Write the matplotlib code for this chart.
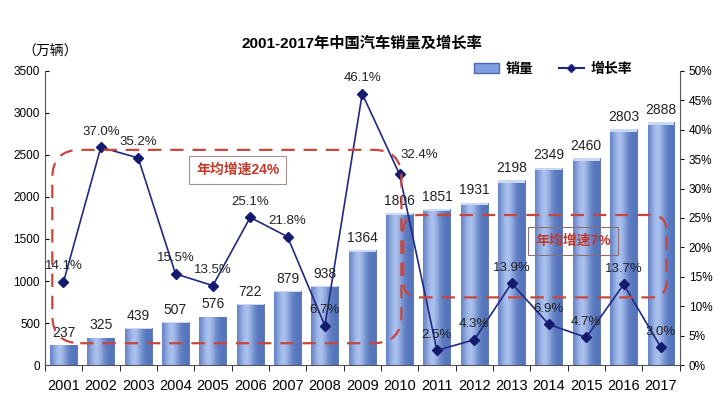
import matplotlib
matplotlib.use("Agg")
import matplotlib.pyplot as plt
import numpy as np
from matplotlib.patches import FancyBboxPatch, Patch
from matplotlib.lines import Line2D
from matplotlib.transforms import IdentityTransform

plt.rcParams["font.family"] = ["Liberation Sans", "Noto Sans CJK SC", "DejaVu Sans"]

years = [str(y) for y in range(2001, 2018)]
sales = [237, 325, 439, 507, 576, 722, 879, 938, 1364, 1806,
         1851, 1931, 2198, 2349, 2460, 2803, 2888]
growth = [14.1, 37.0, 35.2, 15.5, 13.5, 25.1, 21.8, 6.7, 46.1, 32.4,
          2.5, 4.3, 13.9, 6.9, 4.7, 13.7, 3.0]

fig = plt.figure(figsize=(7.23, 4.07), dpi=100)
ax = fig.add_axes([0.062, 0.103, 0.878, 0.723])
x = np.arange(len(years))

# bars with a cylinder-like horizontal gradient
bars = ax.bar(x, sales, width=0.72, color="#7f9de0", edgecolor="#4f6cb0",
              linewidth=0.6, zorder=2)
grad = np.linspace(0, 1, 64)
shade = np.exp(-((grad - 0.35) ** 2) / 0.08)
cmap = matplotlib.colors.LinearSegmentedColormap.from_list(
    "bar", ["#5474bc", "#aac0ee"])
for b in bars:
    im = ax.imshow(shade[np.newaxis, :], cmap=cmap, aspect="auto",
                   extent=[b.get_x(), b.get_x() + b.get_width(), 0, b.get_height()],
                   zorder=2.1)
    im.set_clip_path(b)
    ax.bar(b.get_x() + b.get_width() / 2, b.get_height() * 0.012, bottom=b.get_height() * 0.988,
           width=b.get_width(), color="#c9d8f5", zorder=2.2, linewidth=0)

for xi, v in zip(x, sales):
    ax.annotate(str(v), (xi, v), xytext=(0, 4), textcoords="offset points",
                ha="center", va="bottom", fontsize=10, color="#222222", zorder=5)

ax.set_xlim(-0.5, len(years) - 0.5)
ax.set_ylim(0, 3500)
ax.set_yticks(np.arange(0, 3501, 500))
ax.set_xticks(x)
ax.set_xticklabels(years, fontsize=10.5)
ax.set_xticks(np.arange(-0.5, len(years), 1), minor=True)
ax.tick_params(axis="x", which="major", length=0, pad=10)
ax.tick_params(axis="x", which="minor", length=4, direction="out")
ax.tick_params(axis="y", labelsize=8.5, length=3, direction="in")
ax.spines["top"].set_visible(False)
ax.spines["right"].set_visible(False)
for s in ["left", "bottom"]:
    ax.spines[s].set_color("#555555")

ax2 = ax.twinx()
ax2.set_ylim(0, 50)
ax2.set_yticks(np.arange(0, 51, 5))
ax2.set_yticklabels([f"{t}%" for t in range(0, 51, 5)])
ax2.tick_params(axis="y", labelsize=8.5, length=3, direction="out")
ax2.spines["top"].set_visible(False)
ax2.spines["left"].set_visible(False)
ax2.spines["bottom"].set_visible(False)
ax2.spines["right"].set_color("#555555")
ax2.plot(x, growth, color="#1f2a80", lw=1.2, marker="D", markersize=5,
         markerfacecolor="#141a6e", markeredgecolor="#141a6e", zorder=4)

offsets = {9: (14, 10)}
for i, (xi, g) in enumerate(zip(x, growth)):
    dx, dy = offsets.get(i, (0, 7))
    ax2.annotate(f"{g:.1f}%", (xi, g), xytext=(dx, dy), textcoords="offset points",
                 ha="center", va="bottom", fontsize=9.5, color="#222222", zorder=6)

# dashed rounded regions
fig.canvas.draw()
red = "#c8463c"
def rounded_box(axis, x0, y0, x1, y1, r):
    (px0, py0) = axis.transData.transform((x0, y0))
    (px1, py1) = axis.transData.transform((x1, y1))
    p = FancyBboxPatch((px0, py0), px1 - px0, py1 - py0,
                       boxstyle=f"round,pad=0,rounding_size={r}",
                       transform=IdentityTransform(), fill=False,
                       edgecolor=red, linestyle=(0, (6, 4)), linewidth=1.6, zorder=7)
    fig.add_artist(p)

rounded_box(ax, -0.3, 260, 9.05, 2560, 28)
rounded_box(ax2, 9.1, 11.5, 16.15, 25.5, 16)

ax.text(4.67, 2320, "年均增速24%", ha="center", va="center", fontsize=10,
        fontweight="bold", color="#c0392b", zorder=8,
        bbox=dict(boxstyle="square,pad=0.5", facecolor="white", edgecolor="#a89090", lw=0.8))
ax2.text(13.65, 21.1, "年均增速7%", ha="center", va="center", fontsize=10,
         fontweight="bold", color="#c0392b", zorder=8,
         bbox=dict(boxstyle="square,pad=0.5", facecolor="none", edgecolor="#8a7070", lw=0.8))

fig.text(0.5, 0.895, "2001-2017年中国汽车销量及增长率", ha="center", va="center",
         fontsize=11, fontweight="bold")
fig.text(0.07, 0.872, "（万辆）", ha="center", va="center", fontsize=10)

handles = [Patch(facecolor="#7f9de0", edgecolor="#4f6cb0", label="销量"),
           Line2D([0], [0], color="#1f2a80", marker="D", markersize=4,
                  markerfacecolor="#141a6e", label="增长率")]
fig.legend(handles=handles, loc="center", bbox_to_anchor=(0.765, 0.83), ncol=2,
           frameon=False, handlelength=1.8, handletextpad=0.5, columnspacing=1.8,
           prop={"weight": "bold", "size": 10})

fig.savefig("out.png", dpi=100)
